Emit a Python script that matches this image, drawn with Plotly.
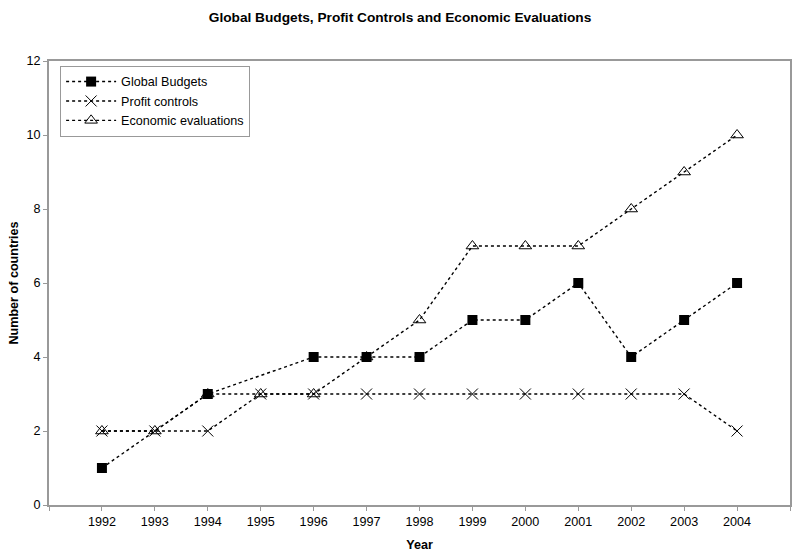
import plotly.graph_objects as go

years = list(range(1992, 2005))
global_budgets = [1, None, 3, None, 4, 4, 4, 5, 5, 6, 4, 5, 6]
profit_controls = [2, 2, 2, 3, 3, 3, 3, 3, 3, 3, 3, 3, 2]
economic_evals = [2, 2, 3, 3, 3, 4, 5, 7, 7, 7, 8, 9, 10]

font = "Liberation Sans, Arial, sans-serif"

fig = go.Figure()
fig.add_trace(go.Scatter(
    x=years, y=global_budgets, name="Global Budgets", mode="lines+markers",
    connectgaps=True,
    line=dict(color="black", width=1.4, dash="dot"),
    marker=dict(symbol="square", size=10, color="black"),
))
fig.add_trace(go.Scatter(
    x=years, y=profit_controls, name="Profit controls", mode="lines+markers",
    line=dict(color="black", width=1.4, dash="dot"),
    marker=dict(symbol="x-thin-open", size=11, color="black",
                line=dict(color="black", width=1)),
))
fig.add_trace(go.Scatter(
    x=years, y=economic_evals, name="Economic evaluations", mode="lines+markers",
    line=dict(color="black", width=1.4, dash="dot"),
    marker=dict(symbol="triangle-up-open", size=11, color="black",
                line=dict(color="black", width=1)),
))

fig.update_layout(
    width=800, height=558,
    margin=dict(l=49, r=8, t=61, b=52),
    paper_bgcolor="white", plot_bgcolor="white",
    font=dict(family=font, size=12.6, color="black"),
    title=dict(text="<b>Global Budgets, Profit Controls and Economic Evaluations</b>",
               x=0.5, xanchor="center", y=1 - 17 / 558, yanchor="middle",
               yref="container", font=dict(size=13.7)),
    legend=dict(x=0.015, y=0.989, xanchor="left", yanchor="top",
                bordercolor="#999999", borderwidth=1, bgcolor="white",
                font=dict(size=12.6), tracegroupgap=0, itemwidth=50),
    showlegend=True,
)
fig.update_xaxes(
    range=[1991, 2005],
    tickvals=list(range(1991, 2006)),
    ticktext=[""] + [str(y) for y in years] + [""],
    ticks="outside", ticklen=4, tickcolor="#999999",
    showline=True, linecolor="#999999", linewidth=2, mirror=True,
    showgrid=False, zeroline=False,
    title=dict(text="<b>Year</b>", standoff=12, font=dict(size=12.6)),
)
fig.update_yaxes(
    range=[0, 12], dtick=2,
    ticks="outside", ticklen=4, tickcolor="#999999",
    showline=True, linecolor="#999999", linewidth=2, mirror=True,
    showgrid=False, zeroline=False,
    title=dict(text="<b>Number of countries</b>", standoff=5, font=dict(size=12.6)),
)

fig.write_html("out.html", config={"displayModeBar": False},
               post_script="document.body.style.margin='0';")
